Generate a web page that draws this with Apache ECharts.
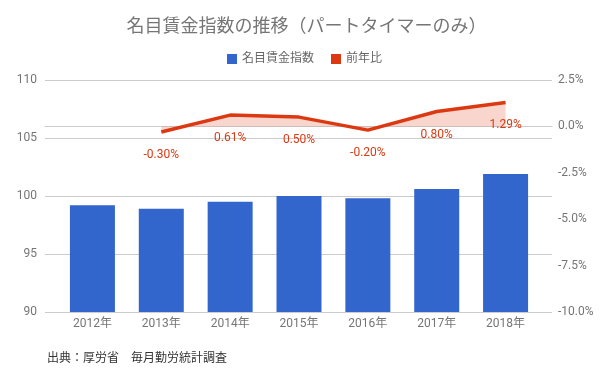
<!DOCTYPE html>
<html><head><meta charset="utf-8">
<script src="https://cdn.jsdelivr.net/npm/echarts@6/dist/echarts.min.js"></script>
<style>html,body{margin:0;padding:0;background:#fff}#c{width:613px;height:379px}</style>
</head><body><div id="c"></div>
<script>
const categories = ['2012年','2013年','2014年','2015年','2016年','2017年','2018年'];
const wageIndex = [99.2, 98.9, 99.5, 100.0, 99.8, 100.6, 101.9];
const yoyChange = [null, -0.30, 0.61, 0.50, -0.20, 0.80, 1.29];
const leftTicks = {min: 90, max: 110, interval: 5};
const rightTicks = {min: -10, max: 2.5, interval: 2.5};

const FONT = 'Roboto, "Noto Sans CJK JP", sans-serif';
const chart = echarts.init(document.getElementById('c'));
chart.setOption({
  animation: false,
  textStyle: {fontFamily: FONT},
  title: [{
    text: '名目賃金指数の推移（パートタイマーのみ）',
    left: 'center', top: 14,
    textStyle: {fontFamily: FONT, fontSize: 18, fontWeight: 'normal', color: '#757575'}
  }, {
    text: '出典：厚労省　毎月勤労統計調査',
    left: 42, top: 348,
    textStyle: {fontFamily: FONT, fontSize: 12, fontWeight: 'normal', color: '#333'}
  }],
  legend: {
    left: 222, top: 48,
    itemWidth: 10, itemHeight: 10, itemGap: 17,
    icon: 'rect',
    textStyle: {fontFamily: FONT, fontSize: 12, color: '#666'},
    data: ['名目賃金指数', '前年比']
  },
  grid: [
    {left: 45, right: 61, top: 80, bottom: 67},
    {left: 58, right: 73, top: 80, bottom: 67}
  ],
  xAxis: [{
    type: 'category', gridIndex: 0, data: [''],
    axisLine: {lineStyle: {color: '#ccc'}}, axisTick: {show: false},
    axisLabel: {show: false}
  }, {
    type: 'category', gridIndex: 1, data: categories,
    axisLine: {show: false}, axisTick: {show: false},
    axisLabel: {color: '#757575', fontSize: 12, fontFamily: FONT, margin: 6}
  }],
  yAxis: [{
    type: 'value', gridIndex: 0, ...leftTicks,
    axisLine: {show: false}, axisTick: {show: false},
    splitLine: {lineStyle: {color: '#ccc'}},
    axisLabel: {color: '#757575', fontSize: 12, fontFamily: FONT, margin: 8}
  }, {
    type: 'value', gridIndex: 0, ...rightTicks,
    axisLine: {show: false}, axisTick: {show: false},
    splitLine: {show: false},
    axisLabel: {color: '#757575', fontSize: 12, fontFamily: FONT, margin: 6,
      formatter: v => v.toFixed(1) + '%'}
  }, {
    type: 'value', gridIndex: 1, ...leftTicks, show: false
  }, {
    type: 'value', gridIndex: 1, ...rightTicks, show: false
  }],
  series: [{
    name: '名目賃金指数', type: 'bar', data: wageIndex, xAxisIndex: 1, yAxisIndex: 2,
    barWidth: 45, itemStyle: {color: '#3366cc'}
  }, {
    name: '前年比', type: 'line', data: yoyChange, xAxisIndex: 1, yAxisIndex: 3,
    symbol: 'circle', symbolSize: 0, showSymbol: true,
    lineStyle: {color: '#dc3912', width: 3.5},
    itemStyle: {color: '#dc3912'},
    areaStyle: {color: 'rgba(220,57,18,0.3)', origin: 0},
    label: {show: true, position: 'bottom', distance: 17, color: '#dc3912',
      fontSize: 12, fontFamily: FONT, formatter: p => p.value.toFixed(2) + '%'}
  }]
});
</script></body></html>
